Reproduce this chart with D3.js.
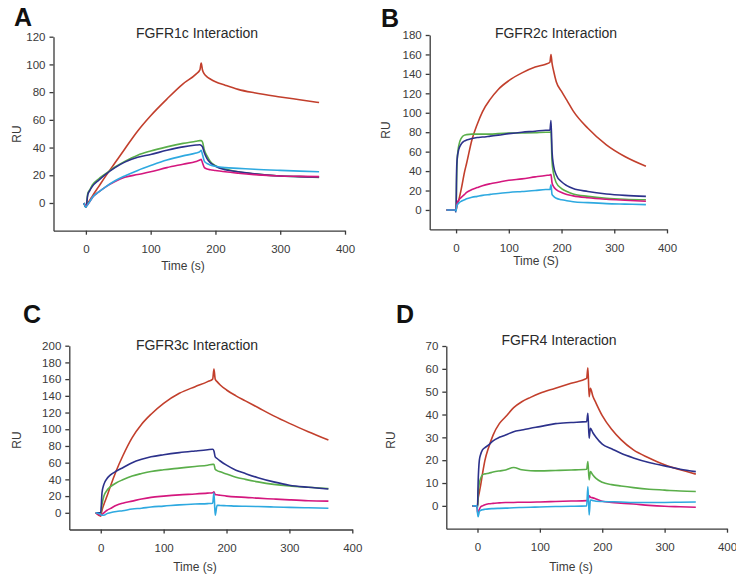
<!DOCTYPE html>
<html>
<head>
<meta charset="utf-8">
<script src="https://cdn.jsdelivr.net/npm/d3@7"></script>
<style>
  body { margin: 0; background: #fff; }
  text { font-family: "Liberation Sans", Arial, sans-serif; }
  .axis path, .axis line { stroke: #3a3a3a; stroke-width: 1.3; }
  .axis text { fill: #3a3a3a; font-size: 11.5px; }
  .trace { fill: none; stroke-width: 1.6; }
</style>
</head>
<body>
<div id="chart"></div>
<script>
// series colours (red, green, navy, magenta, cyan)
var seriesNames = ["red", "green", "navy", "magenta", "cyan"];
var seriesColors = ["#c23f2c", "#5aae4a", "#2c318b", "#d4177e", "#2ea9e0"];

// x ticks shared by all panels
var xTicks = [0, 100, 200, 300, 400];

// panel A - FGFR1c
var timeA = [-3, 0, 3, 6, 10, 20, 30, 45, 60, 80, 100, 125, 150, 170, 176, 178, 180, 183, 187, 192, 200, 215, 235, 260, 300, 330, 360];
var redA = [0, -3, 0, 2, 5, 12, 19, 29, 39, 52, 63, 75, 86, 93, 96, 101, 96, 93, 91, 89.5, 87.5, 85, 82, 79.5, 76.5, 74.5, 72.5];
var greenA = [0, -3, 7, 9.5, 13, 17.5, 21, 26, 30, 34.5, 37.5, 40.5, 43, 44.5, 45, 45, 44, 38, 34, 30, 27, 24.5, 22.5, 21, 19.5, 19, 18.5];
var navyA = [0, -3, 6, 9, 12, 16.5, 20.5, 25.5, 29.5, 33, 35, 38, 40.5, 41.8, 42, 41.5, 40.5, 36, 32, 29, 26.5, 24, 22.5, 21, 19.5, 19, 18.8];
var magentaA = [0, -2, -1, 1, 4, 8, 11.5, 15.5, 18.5, 20.5, 22.5, 25.5, 28, 30, 31, 31.5, 29, 25.5, 24.5, 24, 23.5, 22.5, 21.5, 20.5, 19.5, 19.2, 19];
var cyanA = [0, -3, -1, 1, 4, 8, 11.5, 16, 19.5, 23.5, 27, 31, 34, 36, 37, 38, 35, 30, 28.5, 27.5, 26.5, 25.5, 25, 24.3, 23.5, 23, 22.5];
var yTicksA = [0, 20, 40, 60, 80, 100, 120];

// panel B - FGFR2c
var timeB = [-18, -2, 0, 1, 2, 5, 10, 16, 20, 30, 40, 50, 65, 80, 100, 125, 150, 170, 178, 180, 182, 185, 190, 200, 210, 222, 250, 285, 320, 360];
var redB = [0, 0, 0, 2, 5, 10, 22, 39, 48, 72, 88, 101, 114, 124, 133, 141, 147, 150, 152, 160, 151, 143, 132, 122, 113, 102, 84, 67, 55, 45];
var greenB = [0, 0, 0, 30, 50, 66, 74, 77, 77.5, 78, 78, 78, 78, 78.5, 79, 79.2, 79.5, 80, 80, 80.5, 50, 37, 28, 22, 19, 16.5, 14, 12, 11, 10.5];
var navyB = [0, 0, -2, 40, 52, 62, 68, 71, 72, 73.5, 74.5, 75, 76, 77, 78.5, 80, 81, 82, 82, 92, 60, 45, 36, 29, 25, 22, 19, 16.5, 15, 14];
var magentaB = [0, 0, 0, 4, 7, 10, 13, 16, 18, 21, 23, 25, 27, 28.5, 30.5, 32, 34, 35.5, 36, 36.5, 28, 24, 21, 18, 16, 14.5, 12.5, 11, 10, 9];
var cyanB = [0, 0, -1, 3, 5, 7, 9, 10.5, 11.5, 13, 14, 15, 16, 17, 18, 19, 20, 21, 21, 26, 16, 14, 12, 10.5, 9.5, 8.5, 7.5, 6.5, 6, 5.5];
var yTicksB = [0, 20, 40, 60, 80, 100, 120, 140, 160, 180];

// panel C - FGFR3c
var timeC = [-8, 0, 2, 5, 10, 15, 25, 35, 50, 65, 80, 100, 125, 150, 170, 178, 180, 182, 185, 190, 200, 215, 230, 250, 275, 300, 330, 362];
var redC = [0, -4, 3, 10, 20, 31, 51, 68, 90, 106, 118, 131, 143, 151, 157, 160, 172, 160, 157, 153, 147, 140, 134, 126, 116, 107, 97, 87];
var greenC = [0, 0, 10, 20, 27, 31, 36, 39.5, 44, 47, 49.5, 51.5, 53.5, 55.5, 57, 58, 58, 52, 50.5, 49, 46.5, 42.5, 40, 37, 34, 32, 30.5, 29];
var navyC = [0, 0, 24, 34, 41, 45, 50, 54, 60, 64, 67, 69.5, 72, 74, 75.5, 76, 74, 67, 65, 62, 57, 51, 47, 42, 37, 33, 30.5, 28.5];
var magentaC = [0, -3, -2, 0, 3, 5, 9, 11.5, 14, 16.5, 18.5, 20, 21.5, 22.5, 23.5, 24, 25, 22, 21.5, 21, 20, 19, 18.5, 17.5, 16.5, 15.5, 14.5, 14];
var cyanC = [0, -2, -3, -3, -1, 0, 1.5, 2.5, 4.5, 5.5, 7, 8, 9.5, 10.5, 11, 11.5, 24, -3, 9, 8.7, 8.5, 8, 7.8, 7.5, 7, 6.5, 6, 5.5];
var yTicksC = [0, 20, 40, 60, 80, 100, 120, 140, 160, 180, 200];

// panel D - FGFR4
var timeD = [-8, -1, 0, 1, 3, 5, 8, 12, 18, 25, 35, 45, 58, 71, 85, 100, 125, 150, 175, 177, 179, 181, 185, 190, 200, 215, 230, 250, 275, 300, 325, 350];
var redD = [0, 0, 0, 3, 6, 9, 14, 20, 25.7, 31, 36, 39, 43, 45.6, 47.5, 49.3, 51.5, 53.7, 55.8, 60.5, 47.8, 51.5, 48, 45, 39.5, 33.5, 29, 24.5, 21, 18, 15.8, 13.9];
var greenD = [0, 0, -1, 5, 10, 12, 13.6, 14, 14.3, 14.8, 15.3, 15.7, 16.8, 15.8, 15.4, 15.3, 15.5, 15.7, 16, 19.4, 11.4, 15, 13.5, 12, 10.3, 9.3, 8.7, 8, 7.3, 6.9, 6.5, 6.3];
var navyD = [0, 0, -1, 10, 20, 22.5, 24.5, 25.5, 26.7, 28.5, 30, 31, 32.5, 33.2, 34, 34.7, 36, 36.5, 36.9, 40.5, 29.6, 34, 32, 30, 27, 25, 23, 21, 19, 17.5, 16, 15];
var magentaD = [0, 0, -2.5, -3.5, -1.5, -0.5, 0, 0.5, 0.9, 1.1, 1.3, 1.5, 1.5, 1.6, 1.6, 1.7, 1.9, 2.1, 2.3, 2.5, 4.4, 3.8, 3.5, 3, 2, 1.5, 1.2, 0.8, 0.2, -0.2, -0.4, -0.6];
var cyanD = [0, 0, -3, -4.7, -2.5, -2, -1.7, -1.5, -1.3, -1.2, -1.1, -1, -0.8, -0.7, -0.6, -0.5, -0.3, -0.2, 0, 8.5, -4, 2.6, 2.3, 2, 1.9, 1.8, 1.7, 1.5, 1.5, 1.5, 1.6, 1.7];
var yTicksD = [0, 10, 20, 30, 40, 50, 60, 70];

// panel layout (pixel boxes and text positions)
var panels = [
  { letter: "A", title: "FGFR1c Interaction", xLabel: "Time (s)",
    time: timeA, values: [redA, greenA, navyA, magentaA, cyanA], yTicks: yTicksA, yMin: -20,
    left: 53.5, right: 345, top: 36.7, bottom: 230.7,
    letterPos: [14, 26], titlePos: [197, 38], xLabelPos: [183, 270], yLabelPos: [16.5, 134] },
  { letter: "B", title: "FGFR2c Interaction", xLabel: "Time (S)",
    time: timeB, values: [redB, greenB, navyB, magentaB, cyanB], yTicks: yTicksB, yMin: -20,
    left: 429.7, right: 667, top: 35, bottom: 229.4,
    letterPos: [381, 27], titlePos: [556, 38], xLabelPos: [536, 265], yLabelPos: [386, 130] },
  { letter: "C", title: "FGFR3c Interaction", xLabel: "Time (s)",
    time: timeC, values: [redC, greenC, navyC, magentaC, cyanC], yTicks: yTicksC, yMin: -20,
    left: 69.3, right: 352.3, top: 345.7, bottom: 529.5,
    letterPos: [23, 323], titlePos: [197, 350], xLabelPos: [195, 571], yLabelPos: [16.5, 440] },
  { letter: "D", title: "FGFR4 Interaction", xLabel: "Time (s)",
    time: timeD, values: [redD, greenD, navyD, magentaD, cyanD], yTicks: yTicksD, yMin: -10,
    left: 446.3, right: 727, top: 346, bottom: 528.7,
    letterPos: [396, 323], titlePos: [559, 345], xLabelPos: [571, 571], yLabelPos: [390.5, 440] }
];

var svg = d3.select("#chart").append("svg")
  .attr("width", 736)
  .attr("height", 577);

panels.forEach(function(p) {
  var g = svg.append("g");

  var xScale = d3.scaleLinear()
    .domain([-50, 400])
    .range([p.left, p.right]);

  var yScale = d3.scaleLinear()
    .domain([p.yMin, p.yTicks[p.yTicks.length - 1]])
    .range([p.bottom, p.top]);

  // axes
  g.append("g")
    .attr("class", "axis")
    .attr("transform", "translate(0," + p.bottom + ")")
    .call(d3.axisBottom(xScale).tickValues(xTicks).tickSize(4).tickSizeOuter(0).tickPadding(10));

  g.append("g")
    .attr("class", "axis")
    .attr("transform", "translate(" + p.left + ",0)")
    .call(d3.axisLeft(yScale).tickValues(p.yTicks).tickSize(4).tickSizeOuter(0).tickPadding(4));

  // traces
  p.values.forEach(function(vals, k) {
    var line = d3.line()
      .x(function(d, i) { return xScale(p.time[i]); })
      .y(function(d) { return yScale(d); })
      .curve(d3.curveMonotoneX);

    g.append("path")
      .datum(vals)
      .attr("class", "trace " + seriesNames[k])
      .attr("stroke", seriesColors[k])
      .attr("d", line);
  });

  // panel letter
  g.append("text")
    .attr("x", p.letterPos[0])
    .attr("y", p.letterPos[1])
    .style("font-size", "25px")
    .style("font-weight", "bold")
    .attr("fill", "#111")
    .text(p.letter);

  // title
  g.append("text")
    .attr("x", p.titlePos[0])
    .attr("y", p.titlePos[1])
    .attr("text-anchor", "middle")
    .style("font-size", "14px")
    .attr("fill", "#2a2a2a")
    .text(p.title);

  // x label
  g.append("text")
    .attr("x", p.xLabelPos[0])
    .attr("y", p.xLabelPos[1])
    .attr("text-anchor", "middle")
    .style("font-size", "12px")
    .attr("fill", "#3a3a3a")
    .text(p.xLabel);

  // y label
  g.append("text")
    .attr("transform", "translate(" + p.yLabelPos[0] + "," + p.yLabelPos[1] + ") rotate(-90)")
    .attr("dy", "0.35em")
    .attr("text-anchor", "middle")
    .style("font-size", "12px")
    .attr("fill", "#3a3a3a")
    .text("RU");
});
</script>
</body>
</html>
